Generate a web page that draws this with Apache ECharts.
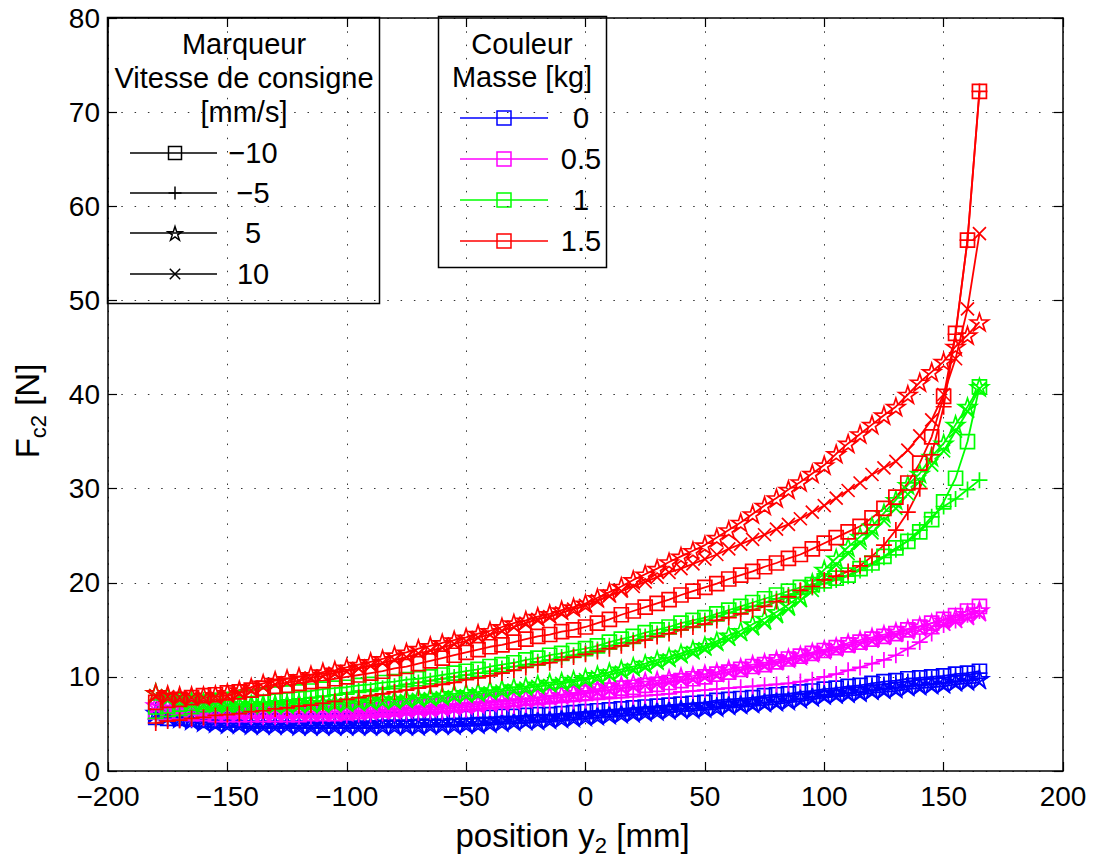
<!DOCTYPE html>
<html>
<head>
<meta charset="utf-8">
<script src="https://cdn.jsdelivr.net/npm/echarts@6/dist/echarts.min.js"></script>
<style>
html,body{margin:0;padding:0;background:#fff;}
#chart{width:1094px;height:857px;}
</style>
</head>
<body>
<div id="chart"></div>
<script>
// ---------------- DATA ----------------
const xs = [-180,-175,-170,-165,-160,-155,-150,-145,-140,-135,
  -130,-125,-120,-115,-110,-105,-100,-95,-90,-85,
  -80,-75,-70,-65,-60,-55,-50,-45,-40,-35,
  -30,-25,-20,-15,-10,-5,0,5,10,15,
  20,25,30,35,40,45,50,55,60,65,
  70,75,80,85,90,95,100,105,110,115,
  120,125,130,135,140,145,150,155,160,165];

const xTicks = [-200,-150,-100,-50,0,50,100,150,200];
const yTicks = [0,10,20,30,40,50,60,70,80];

const speedLabels = ['\u221210','\u22125','5','10'];
const massLabels = ['0','0.5','1','1.5'];

// mass 0 kg (blue)
const blueM10 = [5.7,5.6,5.6,5.5,5.5,5.4,5.4,5.4,5.3,5.3,
  5.3,5.3,5.3,5.3,5.3,5.3,5.3,5.3,5.3,5.4,
  5.4,5.4,5.5,5.5,5.5,5.6,5.6,5.7,5.7,5.8,
  5.8,5.9,6.0,6.0,6.1,6.2,6.3,6.4,6.5,6.6,
  6.7,6.8,6.9,7.0,7.1,7.2,7.3,7.5,7.6,7.7,
  7.8,8.0,8.1,8.2,8.4,8.5,8.7,8.8,9.0,9.1,
  9.3,9.5,9.6,9.8,9.9,10.0,10.1,10.3,10.4,10.6];
const blueM5 = [5.5,5.5,5.4,5.4,5.4,5.3,5.3,5.3,5.2,5.2,
  5.2,5.2,5.2,5.2,5.2,5.2,5.2,5.2,5.2,5.3,
  5.3,5.3,5.4,5.4,5.4,5.5,5.5,5.6,5.6,5.7,
  5.7,5.8,5.9,5.9,6.0,6.1,6.2,6.3,6.4,6.5,
  6.6,6.7,6.8,6.9,7.0,7.1,7.2,7.3,7.4,7.5,
  7.6,7.8,7.9,8.0,8.2,8.3,8.5,8.6,8.8,8.9,
  9.1,9.2,9.4,9.5,9.7,9.8,9.9,10.1,10.2,10.4];
const blueP5 = [6.2,5.9,5.6,5.4,5.2,5.1,5.0,5.0,4.9,4.9,
  4.9,4.9,4.8,4.8,4.8,4.8,4.8,4.8,4.8,4.8,
  4.8,4.8,4.8,4.9,4.9,4.9,5.0,5.0,5.1,5.2,
  5.3,5.4,5.4,5.5,5.6,5.7,5.8,5.9,6.0,6.1,
  6.2,6.3,6.4,6.5,6.6,6.6,6.7,6.8,7.0,7.1,
  7.2,7.3,7.4,7.5,7.7,7.9,8.1,8.2,8.3,8.4,
  8.6,8.7,8.8,9.0,9.1,9.2,9.3,9.5,9.6,9.8];
const blueP10 = [6.0,5.7,5.4,5.2,5.0,4.9,4.8,4.8,4.7,4.7,
  4.7,4.7,4.6,4.6,4.6,4.6,4.6,4.6,4.6,4.6,
  4.6,4.6,4.6,4.7,4.7,4.7,4.8,4.8,4.9,5.0,
  5.1,5.1,5.2,5.3,5.4,5.5,5.6,5.7,5.8,5.9,
  6.0,6.1,6.2,6.3,6.3,6.4,6.5,6.6,6.7,6.8,
  6.9,7.0,7.1,7.3,7.4,7.6,7.8,7.9,8.0,8.1,
  8.3,8.4,8.5,8.7,8.8,8.9,9.0,9.2,9.3,9.4];

// mass 0.5 kg (magenta)
const magM10 = [6.3,6.2,6.2,6.1,6.1,6.0,6.0,6.0,6.0,6.0,
  6.0,6.0,6.0,6.1,6.1,6.1,6.2,6.3,6.4,6.5,
  6.6,6.7,6.8,6.9,7.0,7.1,7.2,7.3,7.4,7.5,
  7.6,7.7,7.8,7.9,8.1,8.2,8.3,8.5,8.6,8.8,
  8.9,9.1,9.2,9.4,9.6,9.8,10.0,10.3,10.5,10.8,
  11.1,11.3,11.6,11.9,12.2,12.5,12.8,13.1,13.4,13.7,
  14.0,14.3,14.6,15.0,15.3,15.7,16.1,16.5,17.0,17.5];
const magM5 = [5.5,5.5,5.5,5.5,5.6,5.6,5.6,5.6,5.7,5.7,
  5.7,5.8,5.8,5.8,5.8,5.9,5.9,6.0,6.0,6.1,
  6.1,6.2,6.2,6.3,6.3,6.4,6.5,6.6,6.7,6.8,
  6.9,7.0,7.1,7.2,7.3,7.4,7.5,7.6,7.7,7.8,
  7.9,8.0,8.1,8.2,8.4,8.5,8.6,8.7,8.8,8.9,
  9.0,9.1,9.2,9.3,9.5,9.7,10.0,10.3,10.7,11.0,
  11.4,11.8,12.3,13.0,13.7,14.6,15.5,16.0,16.6,17.0];
const magP5 = [7.0,6.8,6.7,6.6,6.5,6.4,6.4,6.3,6.3,6.3,
  6.3,6.3,6.3,6.3,6.3,6.3,6.3,6.4,6.4,6.5,
  6.5,6.6,6.7,6.7,6.8,6.9,7.0,7.1,7.3,7.4,
  7.5,7.7,7.8,8.0,8.1,8.3,8.5,8.7,8.9,9.1,
  9.3,9.5,9.6,9.8,10.0,10.1,10.3,10.5,10.8,11.0,
  11.3,11.5,11.8,12.0,12.3,12.6,12.9,13.2,13.6,13.9,
  14.2,14.5,14.8,15.1,15.4,15.7,16.0,16.3,16.7,17.1];
const magP10 = [6.8,6.6,6.5,6.4,6.3,6.2,6.2,6.1,6.1,6.1,
  6.1,6.1,6.1,6.1,6.1,6.1,6.1,6.2,6.2,6.3,
  6.3,6.4,6.5,6.5,6.6,6.7,6.8,6.9,7.0,7.1,
  7.2,7.4,7.5,7.7,7.8,8.0,8.2,8.4,8.6,8.8,
  9.0,9.1,9.3,9.5,9.7,9.8,10.0,10.2,10.5,10.7,
  10.9,11.2,11.4,11.7,12.0,12.3,12.6,12.9,13.2,13.5,
  13.8,14.1,14.4,14.7,15.0,15.3,15.6,15.9,16.2,16.6];

// mass 1 kg (green)
const greenM10 = [6.8,6.9,7.1,7.2,7.3,7.5,7.6,7.8,7.9,8.0,
  8.2,8.3,8.4,8.5,8.7,8.8,8.9,9.1,9.2,9.4,
  9.5,9.7,9.8,10.0,10.2,10.4,10.6,10.8,11.1,11.3,
  11.5,11.8,12.0,12.3,12.5,12.8,13.0,13.3,13.7,14.0,
  14.3,14.7,15.0,15.3,15.7,16.0,16.3,16.7,17.1,17.5,
  17.9,18.3,18.7,19.1,19.5,19.8,20.2,20.5,20.8,21.5,
  22.1,22.8,23.7,24.4,25.4,26.7,28.6,31.1,35.0,40.8];
const greenM5 = [5.6,5.8,5.9,6.1,6.3,6.4,6.6,6.8,6.9,7.1,
  7.3,7.4,7.6,7.8,7.9,8.1,8.3,8.5,8.6,8.8,
  9.0,9.2,9.4,9.6,9.8,10.0,10.2,10.4,10.6,10.9,
  11.1,11.3,11.6,11.8,12.1,12.3,12.6,12.9,13.3,13.6,
  13.9,14.3,14.6,15.0,15.3,15.7,16.0,16.4,16.8,17.2,
  17.5,17.9,18.3,18.7,19.1,19.5,19.9,20.3,20.7,21.3,
  21.9,22.7,23.5,24.5,25.6,27.0,28.1,28.9,29.9,30.9];
const greenP5 = [8.3,7.9,7.6,7.4,7.3,7.2,7.1,7.1,7.1,7.1,
  7.1,7.1,7.2,7.2,7.2,7.3,7.3,7.4,7.5,7.6,
  7.6,7.7,7.8,7.9,8.0,8.2,8.3,8.4,8.6,8.7,
  8.9,9.0,9.2,9.4,9.5,9.7,9.9,10.2,10.5,10.8,
  11.1,11.4,11.8,12.1,12.5,12.9,13.3,13.8,14.4,14.9,
  15.6,16.2,16.9,17.7,18.6,20.0,21.4,22.6,23.8,24.9,
  26.0,27.4,28.8,30.4,31.6,33.4,34.8,36.8,38.7,40.8];
const greenP10 = [8.0,7.7,7.4,7.2,7.1,7.0,6.9,6.9,6.9,6.9,
  6.9,6.9,7.0,7.0,7.0,7.1,7.1,7.2,7.3,7.3,
  7.4,7.5,7.6,7.7,7.8,7.9,8.0,8.2,8.3,8.5,
  8.6,8.8,9.0,9.1,9.3,9.5,9.7,10.0,10.2,10.5,
  10.8,11.1,11.5,11.8,12.2,12.6,13.0,13.5,14.0,14.5,
  15.1,15.7,16.4,17.2,18.1,19.2,20.6,21.9,23.1,24.2,
  25.3,26.6,27.9,29.4,30.8,32.5,34.0,36.1,38.2,40.6];

// mass 1.5 kg (red)
const redM10 = [7.3,7.5,7.6,7.8,8.0,8.1,8.3,8.4,8.6,8.8,
  9.0,9.1,9.3,9.5,9.6,9.8,10.0,10.2,10.4,10.6,
  10.9,11.1,11.4,11.7,12.0,12.3,12.6,12.9,13.2,13.4,
  13.7,14.0,14.3,14.5,14.8,15.0,15.3,15.7,16.1,16.6,
  17.0,17.4,17.8,18.2,18.7,19.1,19.5,19.9,20.4,20.8,
  21.2,21.7,22.1,22.6,23.0,23.6,24.2,24.8,25.4,26.0,
  26.9,27.9,29.1,30.6,32.7,35.5,39.8,46.5,56.4,72.2];
const redM5 = [5.1,5.3,5.4,5.6,5.7,5.9,6.0,6.1,6.3,6.4,
  6.6,6.7,6.9,7.0,7.2,7.4,7.6,7.8,8.0,8.2,
  8.4,8.6,8.8,9.0,9.2,9.4,9.7,9.9,10.1,10.4,
  10.7,11.0,11.3,11.5,11.8,12.1,12.4,12.7,13.0,13.3,
  13.6,13.9,14.3,14.6,15.0,15.3,15.6,16.0,16.3,16.7,
  17.1,17.5,18.0,18.5,19.2,19.6,20.3,20.7,21.2,21.8,
  22.8,24.0,25.6,27.5,30.0,33.6,38.7,46.4,56.4,72.2];
const redP5 = [8.3,8.1,8.0,8.0,8.0,8.1,8.3,8.6,8.9,9.3,
  9.6,9.8,10.0,10.2,10.5,10.7,11.0,11.3,11.6,11.9,
  12.3,12.6,13.0,13.3,13.6,13.9,14.2,14.6,14.9,15.3,
  15.7,16.0,16.4,16.7,17.1,17.4,17.8,18.4,19.0,19.6,
  20.3,20.9,21.5,22.2,22.8,23.4,24.0,24.8,25.6,26.4,
  27.3,28.2,29.0,29.9,30.7,31.6,32.5,33.7,34.8,35.8,
  36.8,37.8,38.7,40.0,41.3,42.4,43.5,45.1,46.3,47.7];
const redP10 = [8.0,7.9,7.8,7.8,7.8,7.9,8.0,8.3,8.6,8.9,
  9.2,9.4,9.6,9.9,10.1,10.4,10.6,10.9,11.2,11.5,
  11.8,12.1,12.5,12.8,13.1,13.5,13.8,14.2,14.5,14.9,
  15.3,15.7,16.1,16.4,16.8,17.2,17.6,18.1,18.6,19.1,
  19.6,20.1,20.6,21.1,21.5,22.0,22.5,23.0,23.6,24.1,
  24.6,25.1,25.7,26.2,26.8,27.5,28.2,29.0,29.8,30.6,
  31.5,32.2,32.9,34.1,35.6,37.3,40.0,43.8,49.1,57.1];

// ---------------- STYLE ----------------
const FONT = '"Liberation Sans", Arial, Helvetica, sans-serif';
const massColors = ['#0000ff', '#ff00ff', '#00ff00', '#ff0000'];
const STAR = 'path://M50,0L61.23,34.55L97.55,34.55L68.16,55.9L79.39,90.45L50,69.1L20.61,90.45L31.84,55.9L2.45,34.55L38.77,34.55Z';
const markerDefs = [
  { symbol: 'rect', size: 14 },
  { symbol: 'path://M50,0L50,100M0,50L100,50', size: 16 },
  { symbol: STAR, size: 18 },
  { symbol: 'path://M0,0L100,100M100,0L0,100', size: 13 }
];
const seriesData = [
  [blueM10, blueM5, blueP5, blueP10],
  [magM10, magM5, magP5, magP10],
  [greenM10, greenM5, greenP5, greenP10],
  [redM10, redM5, redP5, redP10]
];

const series = [];
seriesData.forEach((group, mi) => {
  group.forEach((arr, si) => {
    const c = massColors[mi];
    series.push({
      type: 'line',
      name: massLabels[mi] + ' / ' + speedLabels[si],
      data: xs.map((x, i) => [x, arr[i]]),
      symbol: markerDefs[si].symbol,
      symbolSize: markerDefs[si].size,
      symbolKeepAspect: true,
      showSymbol: true,
      lineStyle: { color: c, width: 1.8 },
      itemStyle: { color: 'none', borderColor: c, borderWidth: 1.7 },
      emphasis: { disabled: true },
      silent: true,
      animation: false,
      xAxisIndex: 0, yAxisIndex: 0
    });
  });
});

// ---------------- LEGEND GRAPHICS ----------------
function starPoints(cx, cy, R) {
  const pts = [];
  for (let k = 0; k < 10; k++) {
    const r = (k % 2 === 0) ? R : R * 0.382;
    const a = -Math.PI / 2 + k * Math.PI / 5;
    pts.push([cx + r * Math.cos(a), cy + r * Math.sin(a)]);
  }
  return pts;
}
function markerGraphic(kind, cx, cy, color, s) {
  const st = { stroke: color, fill: 'none', lineWidth: 1.5 };
  const h = s / 2;
  if (kind === 0) return [{ type: 'rect', shape: { x: cx - h, y: cy - h, width: s, height: s }, style: st }];
  if (kind === 1) return [
    { type: 'line', shape: { x1: cx, y1: cy - h, x2: cx, y2: cy + h }, style: st },
    { type: 'line', shape: { x1: cx - h, y1: cy, x2: cx + h, y2: cy }, style: st }];
  if (kind === 2) return [{ type: 'polygon', shape: { points: starPoints(cx, cy + 1, h + 1) }, style: st }];
  const q = h * 0.8;
  return [
    { type: 'line', shape: { x1: cx - q, y1: cy - q, x2: cx + q, y2: cy + q }, style: st },
    { type: 'line', shape: { x1: cx + q, y1: cy - q, x2: cx - q, y2: cy + q }, style: st }];
}
function txt(text, x, y, size) {
  return { type: 'text', x: x, y: y, style: { text: text, fill: '#000', fontSize: size || 29, fontFamily: FONT, align: 'center', verticalAlign: 'middle' } };
}

const g = [];
// box 1 : markers / speed
g.push({ type: 'rect', shape: { x: 107.5, y: 17.5, width: 272, height: 286 }, style: { fill: '#fff', stroke: '#000', lineWidth: 1.5 } });
g.push(txt('Marqueur', 244, 44));
g.push(txt('Vitesse de consigne', 244, 78));
g.push(txt('[mm/s]', 244, 112));
const rows1 = [153, 193, 233, 274];
speedLabels.forEach((lab, i) => {
  const y = rows1[i];
  g.push({ type: 'line', shape: { x1: 130, y1: y, x2: 217, y2: y }, style: { stroke: '#000', lineWidth: 1.5 } });
  markerGraphic(i, 175, y, '#000', 13).forEach(e => g.push(e));
  g.push(txt(lab, 253, y));
});
// box 2 : colour / mass
g.push({ type: 'rect', shape: { x: 438.5, y: 16.5, width: 168, height: 251 }, style: { fill: '#fff', stroke: '#000', lineWidth: 1.5 } });
g.push(txt('Couleur', 522, 44));
g.push(txt('Masse [kg]', 522, 77));
const rows2 = [118, 159, 200, 241];
massLabels.forEach((lab, i) => {
  const y = rows2[i];
  g.push({ type: 'line', shape: { x1: 460, y1: y, x2: 548, y2: y }, style: { stroke: massColors[i], lineWidth: 1.5 } });
  markerGraphic(0, 504, y, massColors[i], 14).forEach(e => g.push(e));
  g.push(txt(lab, 581, y));
});

// ---------------- CHART ----------------
const minus = v => (v < 0 ? '\u2212' + Math.abs(v) : String(v));
const dotted = { color: '#333', width: 1, type: [1.5, 11.8] };
const tickIn = { show: true, inside: true, length: 9, lineStyle: { color: '#000', width: 1.2 } };

const chart = echarts.init(document.getElementById('chart'), null, { renderer: 'svg' });
chart.setOption({
  backgroundColor: '#fff',
  animation: false,
  grid: { left: 108, right: 31, top: 18, bottom: 86, containLabel: false, outerBoundsMode: 'none' },
  xAxis: [{
    type: 'value', min: xTicks[0], max: xTicks[xTicks.length - 1], interval: 50, position: 'bottom',
    axisLine: { show: true, onZero: false, lineStyle: { color: '#000', width: 1.5 } },
    axisTick: tickIn,
    axisLabel: { color: '#000', fontSize: 28, fontFamily: FONT, margin: 13, lineHeight: 24, formatter: minus },
    splitLine: { show: true, lineStyle: dotted },
    name: 'position y{s|2} [mm]', nameLocation: 'middle', nameGap: 36,
    nameTextStyle: { color: '#000', fontSize: 33, fontFamily: FONT, lineHeight: 42, padding: [0, 26, 0, 0],
      rich: { s: { fontSize: 22, fontFamily: FONT, color: '#000', verticalAlign: 'bottom' } } }
  }, {
    type: 'value', min: xTicks[0], max: xTicks[xTicks.length - 1], interval: 50, position: 'top',
    axisLine: { show: true, onZero: false, lineStyle: { color: '#000', width: 1.5 } },
    axisTick: tickIn, axisLabel: { show: false }, splitLine: { show: false }
  }],
  yAxis: [{
    type: 'value', min: yTicks[0], max: yTicks[yTicks.length - 1], interval: 10, position: 'left',
    axisLine: { show: true, onZero: false, lineStyle: { color: '#000', width: 1.5 } },
    axisTick: tickIn,
    axisLabel: { color: '#000', fontSize: 28, fontFamily: FONT, margin: 8, lineHeight: 22 },
    splitLine: { show: true, lineStyle: dotted },
    name: 'F{s|c2} [N]', nameLocation: 'middle', nameGap: 59, nameRotate: 90,
    nameTextStyle: { color: '#000', fontSize: 33, fontFamily: FONT, lineHeight: 44, padding: [0, 33, 0, 0],
      rich: { s: { fontSize: 22, fontFamily: FONT, color: '#000', verticalAlign: 'bottom' } } }
  }, {
    type: 'value', min: yTicks[0], max: yTicks[yTicks.length - 1], interval: 10, position: 'right',
    axisLine: { show: true, onZero: false, lineStyle: { color: '#000', width: 1.5 } },
    axisTick: tickIn, axisLabel: { show: false }, splitLine: { show: false }
  }],
  series: series,
  graphic: { elements: [{ type: 'group', z: 100, silent: true, children: g }] }
});
</script>
</body>
</html>
